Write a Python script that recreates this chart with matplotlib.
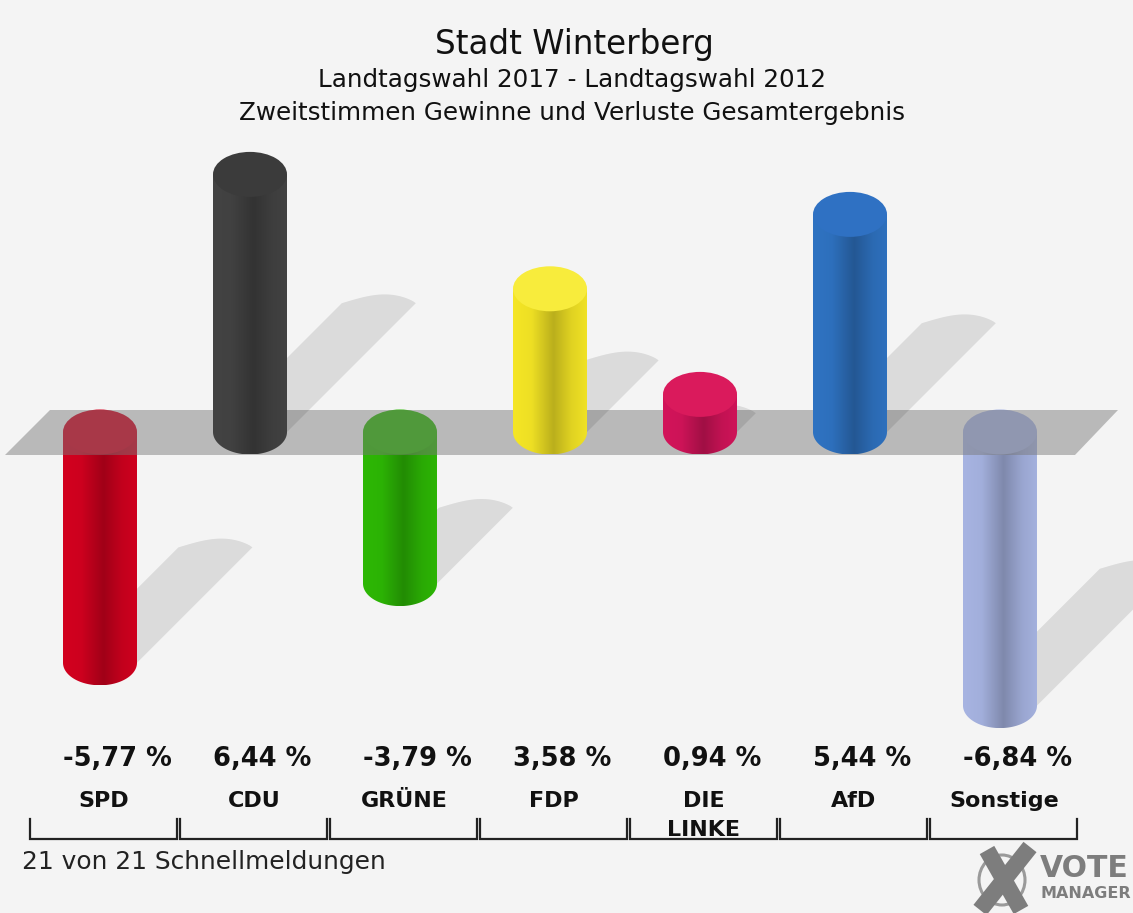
import matplotlib
matplotlib.use('Agg')
import matplotlib.pyplot as plt
import numpy as np
from matplotlib.patches import Ellipse, Polygon, PathPatch
from matplotlib.path import Path
from matplotlib.colors import to_rgb

# Chart data
parties = ['SPD', 'CDU', 'GRÜNE', 'FDP', 'DIE\nLINKE', 'AfD', 'Sonstige']
values = [-5.77, 6.44, -3.79, 3.58, 0.94, 5.44, -6.84]
colors = ['#d3001f', '#434343', '#2db805', '#f5e625', '#d3145a', '#2f73c2', '#a7b4e2']
top_colors = ['#d3001f', '#3b3b3b', '#2db805', '#f8ec3c', '#da1a5c', '#2f71c3', '#a7b4e2']

W, H = 1133, 913
BG = '#f4f4f4'
FONT = 'DejaVu Sans'

fig = plt.figure(figsize=(W / 100, H / 100), dpi=100)
fig.patch.set_facecolor(BG)
ax = fig.add_axes([0, 0, 1, 1])
ax.set_facecolor(BG)
ax.axis('off')
ax.set_autoscale_on(False)

# 150 px per party, 40 px per percentage point, zero line 432 px from the top
XLIM = (-100 / 150, (W - 100) / 150)
YLIM = ((432 - H) / 40, 432 / 40)
ax.set_xlim(*XLIM)
ax.set_ylim(*YLIM)


def px(x, y):
    # pixel position -> data position (decorations only)
    return (x - 100) / 150, (432 - y) / 40


bw = 74 / 150      # cylinder width
eh = 45 / 40       # height of the cylinder ellipses
slant = 40 / 150   # 45 degree shadow

prof_t = [0, 0.25, 0.55, 0.8, 1]
prof_f = [1.0, 0.97, 0.76, 0.92, 0.98]


def body_path(i, lo, hi):
    t = np.linspace(np.pi, 2 * np.pi, 60)
    xs = i + bw / 2 * np.cos(t)
    ys = lo + eh / 2 * np.sin(t)
    verts = [(i - bw / 2, hi)] + list(zip(xs, ys)) + [(i + bw / 2, hi), (i - bw / 2, hi)]
    return Path(verts, closed=True)


def cylinder(i, v, color, top, z):
    lo, hi = min(0, v), max(0, v)
    clip = PathPatch(body_path(i, lo, hi), transform=ax.transData,
                     facecolor='none', edgecolor='none')
    f = np.interp(np.linspace(0, 1, 128), prof_t, prof_f)
    grad = np.clip(np.array(to_rgb(color))[None, None, :] * f[None, :, None], 0, 1)
    im = ax.imshow(grad, extent=[i - bw / 2, i + bw / 2, lo - eh / 2, hi],
                   aspect='auto', interpolation='bilinear', zorder=z)
    im.set_clip_path(clip)
    ax.add_patch(Ellipse((i, hi), bw, eh, facecolor=top, edgecolor='none', zorder=z + 0.1))


def shadow(i, v, z):
    base = min(0, v)
    L = 0.5 * abs(v)
    d = L * slant
    x0, x1 = i - bw / 2, i + bw / 2
    s = np.linspace(0, 1, 30)
    cap_x = x1 + d - s * bw
    cap_y = base + L + 0.22 * np.sin(np.pi * s ** 0.8)
    pts = [(x0, base), (x1, base)] + list(zip(cap_x, cap_y))
    ax.add_patch(Polygon(pts, closed=True, facecolor='black', alpha=0.1,
                         edgecolor='none', zorder=z))


# negative cylinders sit below the zero plane
for i, v in enumerate(values):
    if v < 0:
        shadow(i, v, 1)
        cylinder(i, v, colors[i], top_colors[i], 2)

# zero plane
plane = [px(50, 410), px(1118, 410), px(1075, 455), px(5, 455)]
ax.add_patch(Polygon(plane, closed=True, facecolor='#787878', alpha=0.47,
                     edgecolor='none', zorder=3))

for i, v in enumerate(values):
    if v >= 0:
        shadow(i, v, 3.5)
        cylinder(i, v, colors[i], top_colors[i], 4)

# value and party labels
for i, (name, v) in enumerate(zip(parties, values)):
    label = f'{v:.2f}'.replace('.', ',') + ' %'
    ax.text(i - 37 / 150, px(0, 766)[1], label, ha='left', va='baseline',
            fontsize=18.5, fontweight='bold', family=FONT, color='#111111')
    for k, line in enumerate(name.split('\n')):
        ax.text(i + 4 / 150, px(0, 807 + 29 * k)[1], line, ha='center', va='baseline',
                fontsize=16, fontweight='bold', family=FONT, color='#111111')
    # bracket under each party
    gl, gr = i - 70 / 150, i + 77 / 150
    yb, yt = px(0, 839)[1], px(0, 819)[1]
    ax.plot([gl, gl, gr, gr], [yt, yb, yb, yt], color='#222222', lw=1.6,
            solid_joinstyle='miter', zorder=5)

# titles
fig.text(574 / W, 1 - 54 / H, 'Stadt Winterberg', ha='center', va='baseline',
         fontsize=23.5, family=FONT, color='#111111')
fig.text(572 / W, 1 - 87 / H, 'Landtagswahl 2017 - Landtagswahl 2012', ha='center',
         va='baseline', fontsize=17.7, family=FONT, color='#111111')
fig.text(572 / W, 1 - 120 / H, 'Zweitstimmen Gewinne und Verluste Gesamtergebnis',
         ha='center', va='baseline', fontsize=17.7, family=FONT, color='#111111')
fig.text(22 / W, 1 - 869 / H, '21 von 21 Schnellmeldungen', ha='left', va='baseline',
         fontsize=17.9, family=FONT, color='#222222')

# VoteManager logo
lg = '#7d7d7d'
ax.add_patch(Ellipse(px(1002, 880), 46 / 150, 50 / 40, facecolor='none',
                     edgecolor='#9a9a9a', lw=2.2, zorder=5))
for (a, b) in [((987, 850), (1021, 910)), ((1030, 847), (980, 910))]:
    pa, pb = px(*a), px(*b)
    ax.plot([pa[0], pb[0]], [pa[1], pb[1]], color=lg, lw=12, solid_capstyle='butt', zorder=6)
fig.text(1040 / W, 1 - 877 / H, 'VOTE', ha='left', va='baseline', fontsize=21.5,
         fontweight='bold', family=FONT, color=lg)
fig.text(1040 / W, 1 - 898 / H, 'MANAGER', ha='left', va='baseline', fontsize=11.5,
         fontweight='bold', family=FONT, color=lg)

ax.set_xlim(*XLIM)
ax.set_ylim(*YLIM)
fig.savefig('out.png', dpi=100, facecolor=BG)
